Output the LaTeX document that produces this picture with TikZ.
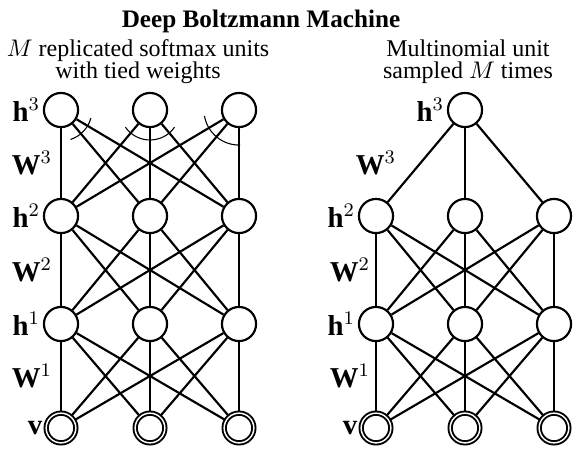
\documentclass[tikz,border=0pt]{standalone}
\usepackage{fontspec}
\setmainfont{Liberation Serif}
\usetikzlibrary{positioning}

\begin{document}
\begin{tikzpicture}[x=0.01465cm, y=0.01465cm,
    unit/.style={draw, circle, line width=0.9pt, minimum size=0.5cm, inner sep=0pt},
    visunit/.style={draw, circle, line width=0.8pt, double, double distance=0.6pt, minimum size=0.435cm, inner sep=0pt},
    layerlabel/.style={font=\large, inner sep=1pt},
    link/.style={line width=0.9pt},
    tiedarc/.style={line width=0.45pt},
    caption/.style={align=center, inner sep=0pt, anchor=north, font=\fontsize{10}{9.4}\selectfont}
]
    \useasboundingbox (0,0) rectangle (573,453);

    % Titles
    \node[font=\fontsize{10.5}{12}\selectfont\bfseries, anchor=base] (title) at (261,426) {Deep Boltzmann Machine};
    \node[caption] (capleft) at (138,414) {$M$ replicated softmax units\\with tied weights};
    \node[caption] (capright) at (468,414) {Multinomial unit\\sampled $M$ times};

    % Left model: replicated softmax units
    \foreach \i/\x in {1/61,2/150,3/239} {
        \node[unit] (a3-\i) at (\x,343) {};
        \node[unit] (a2-\i) at (\x,237) {};
        \node[unit] (a1-\i) at (\x,129) {};
        \node[visunit] (a0-\i) at (\x,25) {};
    }
    \foreach \i in {1,2,3} {
        \foreach \j in {1,2,3} {
            \draw[link] (a3-\i) -- (a2-\j);
            \draw[link] (a2-\i) -- (a1-\j);
            \draw[link] (a1-\i) -- (a0-\j);
        }
    }
    \node[layerlabel, left=0pt of a3-1] (ha3) {$\mathbf{h}^3$};
    \node[layerlabel, left=0pt of a2-1] (ha2) {$\mathbf{h}^2$};
    \node[layerlabel, left=0pt of a1-1] (ha1) {$\mathbf{h}^1$};
    \node[layerlabel, left=0pt of a0-1] (va) {$\mathbf{v}$};
    \node[layerlabel] (wa3) at (32,290) {$\mathbf{W}^3$};
    \node[layerlabel] (wa2) at (32,183) {$\mathbf{W}^2$};
    \node[layerlabel] (wa1) at (32,77) {$\mathbf{W}^1$};

    % tied weights
    \draw[tiedarc] (a3-1.center) ++(-15:12.9pt) arc[start angle=-15, end angle=-72, radius=12.9pt];
    \draw[tiedarc] (a3-2.center) ++(-35:12.5pt) arc[start angle=-35, end angle=-145, radius=12.5pt];
    \draw[tiedarc] (a3-3.center) ++(190:14.6pt) arc[start angle=190, end angle=272, radius=14.6pt];

    % Right model: one multinomial unit
    \node[unit] (b3) at (465,343) {};
    \foreach \i/\x in {1/376,2/465,3/554} {
        \node[unit] (b2-\i) at (\x,237) {};
        \node[unit] (b1-\i) at (\x,129) {};
        \node[visunit] (b0-\i) at (\x,25) {};
        \draw[link] (b3) -- (b2-\i);
    }
    \foreach \i in {1,2,3} {
        \foreach \j in {1,2,3} {
            \draw[link] (b2-\i) -- (b1-\j);
            \draw[link] (b1-\i) -- (b0-\j);
        }
    }
    \node[layerlabel, left=0pt of b3] (hb3) {$\mathbf{h}^3$};
    \node[layerlabel, left=0pt of b2-1] (hb2) {$\mathbf{h}^2$};
    \node[layerlabel, left=0pt of b1-1] (hb1) {$\mathbf{h}^1$};
    \node[layerlabel, left=0pt of b0-1] (vb) {$\mathbf{v}$};
    \node[layerlabel] (wb3) at (376,290) {$\mathbf{W}^3$};
    \node[layerlabel] (wb2) at (350,183) {$\mathbf{W}^2$};
    \node[layerlabel] (wb1) at (350,77) {$\mathbf{W}^1$};
\end{tikzpicture}
\end{document}
